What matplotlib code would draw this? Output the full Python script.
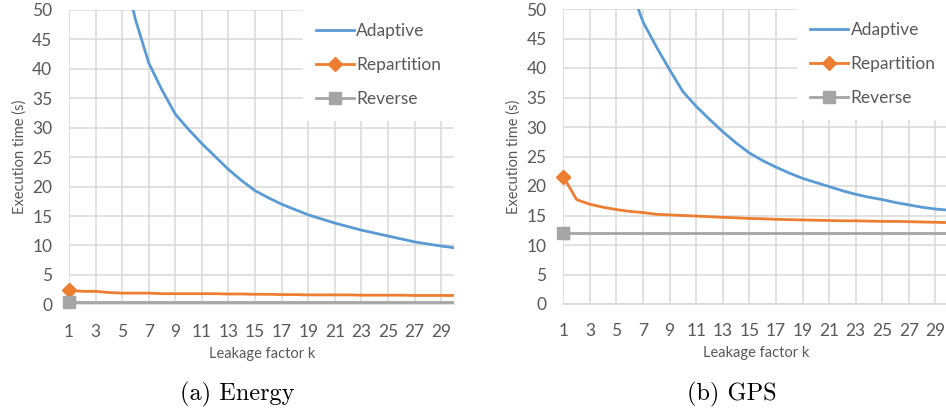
import matplotlib
matplotlib.use("Agg")
import matplotlib.pyplot as plt
import numpy as np

k = list(range(1, 31))

energy_adaptive = [290, 145, 97, 72.5, 58, 48.4, 41.0, 36.4, 32.3, 29.7, 27.3, 25.1, 22.9, 21.0, 19.3,
                   18.1, 17.0, 16.1, 15.2, 14.5, 13.8, 13.2, 12.6, 12.1, 11.6, 11.1, 10.6, 10.25, 9.9, 9.6]
energy_repartition = [2.4, 2.2, 2.2, 2.0, 1.9, 1.9, 1.9, 1.8, 1.8, 1.8, 1.8, 1.8, 1.75, 1.75, 1.7,
                      1.7, 1.65, 1.65, 1.6, 1.6, 1.6, 1.6, 1.55, 1.55, 1.55, 1.55, 1.5, 1.5, 1.5, 1.5]
energy_reverse = [0.4] * 30

gps_adaptive = [130, 100, 80, 68, 60, 54.0, 47.8, 43.6, 39.7, 36.0, 33.5, 31.3, 29.2, 27.3, 25.6,
                24.3, 23.2, 22.2, 21.3, 20.6, 19.9, 19.2, 18.6, 18.1, 17.7, 17.2, 16.8, 16.4, 16.1, 15.9]
gps_repartition = [21.6, 17.7, 16.9, 16.4, 16.0, 15.7, 15.5, 15.2, 15.1, 15.0, 14.9, 14.8, 14.7, 14.6, 14.5,
                   14.45, 14.35, 14.3, 14.25, 14.2, 14.15, 14.1, 14.1, 14.05, 14.0, 14.0, 13.95, 13.9, 13.85, 13.8]
gps_reverse = [12.0] * 30

xticks = list(range(1, 30, 2))
yticks = list(range(0, 55, 5))
captions = ["(a) Energy", "(b) GPS"]
series_names = ["Adaptive", "Repartition", "Reverse"]

BLUE = "#5b9bd5"
ORANGE = "#ed7d31"
GREY = "#a5a5a5"
TXT = "#595959"
GRID = "#d9d9d9"

plt.rcParams['font.family'] = ['Lato', 'DejaVu Sans']

fig = plt.figure(figsize=(9.46, 4.12), dpi=100)
W, H = 946, 412

def make_ax(x1px, y0px, y50px):
    x30px = x1px + 29 * 13.29
    return fig.add_axes([x1px / W, 1 - y0px / H, (x30px - x1px) / W, (y0px - y50px) / H])

ax1 = make_ax(69, 304.3, 10)
ax2 = make_ax(563.3, 304.0, 9)

datasets = [
    (ax1, energy_adaptive, energy_repartition, energy_reverse, captions[0]),
    (ax2, gps_adaptive, gps_repartition, gps_reverse, captions[1]),
]

for ax, ad, rep, rev, cap in datasets:
    ax.set_xlim(1, 30)
    ax.set_ylim(0, 50)
    ax.set_xticks(xticks)
    ax.set_yticks(yticks)
    ax.grid(True, color=GRID, lw=1.1, zorder=0)
    ax.set_axisbelow(True)
    for s in ax.spines.values():
        s.set_visible(False)
    ax.spines['bottom'].set_visible(True)
    ax.spines['bottom'].set_color(GRID)
    ax.spines['bottom'].set_linewidth(1.1)
    ax.tick_params(length=0, labelsize=12.5, labelcolor=TXT)
    ax.tick_params(axis='y', pad=12)
    ax.tick_params(axis='x', pad=14)
    ax.plot(k, ad, color=BLUE, lw=2, label=series_names[0], zorder=3)
    ax.plot(k, rep, color=ORANGE, lw=2, marker='D', ms=7, markevery=[0],
            label=series_names[1], zorder=3)
    ax.plot(k, rev, color=GREY, lw=2, marker='s', ms=8, markevery=[0],
            label=series_names[2], zorder=3)
    # first-point markers drawn unclipped so they show fully on the axis edge
    ax.plot(k[:1], rep[:1], color=ORANGE, marker='D', ms=7, ls='none', clip_on=False, zorder=4)
    ax.plot(k[:1], rev[:1], color=GREY, marker='s', ms=8, ls='none', clip_on=False, zorder=4)
    ax.set_xlabel("Leakage factor k", fontsize=10.5, color=TXT, labelpad=5)
    ax.set_ylabel("Execution time (s)", fontsize=10.5, color=TXT, labelpad=4)
    leg = ax.legend(loc='upper right', fontsize=12.5, frameon=True, facecolor='white',
                    edgecolor='none', framealpha=1, fancybox=False, handlelength=2.2,
                    handletextpad=0.15, labelspacing=1.05, borderaxespad=0.0,
                    borderpad=0.75, labelcolor=TXT)
    leg.set_zorder(5)

fig.text(237 / W, 1 - 394 / H, captions[0], family='cmr10', fontsize=17.5, ha='center', va='center')
fig.text(732 / W, 1 - 394 / H, captions[1], family='cmr10', fontsize=17.5, ha='center', va='center')

fig.savefig("out.png", dpi=100)
